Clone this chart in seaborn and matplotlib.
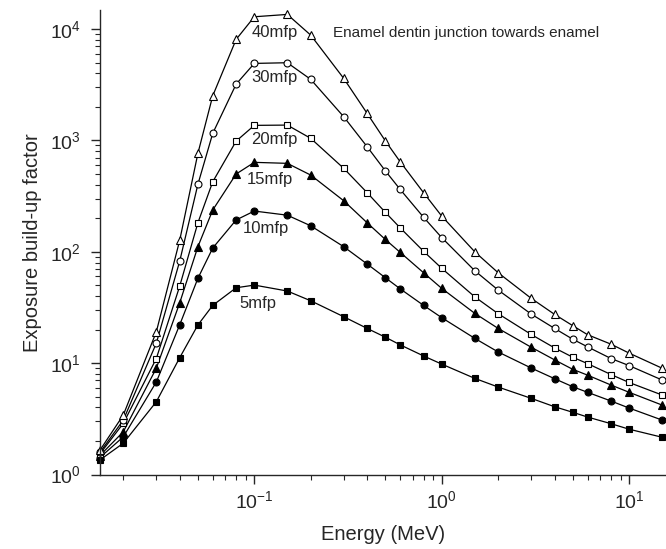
import matplotlib
matplotlib.use("Agg")
import matplotlib.pyplot as plt
import seaborn as sns
import pandas as pd

# Energy grid (MeV)
energy = [0.015, 0.02, 0.03, 0.04, 0.05, 0.06, 0.08, 0.1, 0.15, 0.2, 0.3, 0.4, 0.5,
          0.6, 0.8, 1, 1.5, 2, 3, 4, 5, 6, 8, 10, 15]

# Exposure build-up factors
eb_5mfp = [1.35, 1.91, 4.5, 11.2, 22.0, 33.0, 47.5, 50.2, 44.4, 36.3, 26.1, 20.5, 17.1,
           14.6, 11.6, 9.8, 7.3, 6.1, 4.83, 4.06, 3.62, 3.28, 2.86, 2.55, 2.16]
eb_10mfp = [1.42, 2.18, 6.77, 22.1, 57.7, 108, 193, 232, 213, 171, 111, 77.6, 58.5,
            46.5, 33.0, 25.6, 16.7, 12.6, 9.04, 7.25, 6.14, 5.47, 4.57, 3.95, 3.08]
eb_15mfp = [1.48, 2.42, 9.0, 34.8, 111, 237, 499, 635, 622, 488, 287, 182, 129,
            98.8, 64.8, 46.9, 28.0, 20.5, 13.9, 10.7, 8.8, 7.8, 6.36, 5.47, 4.2]
eb_20mfp = [1.53, 2.88, 11.0, 49.2, 182, 425, 985, 1364, 1372, 1043, 561, 339, 226,
            164, 101, 71, 39.4, 27.8, 18.1, 13.7, 11.3, 9.9, 7.9, 6.7, 5.17]
eb_30mfp = [1.58, 3.08, 15.1, 82.5, 403, 1156, 3200, 4910, 4980, 3530, 1630, 877, 533,
            363, 204, 134, 67.6, 45.3, 27.6, 20.5, 16.4, 14.0, 11.0, 9.5, 7.05]
eb_40mfp = [1.65, 3.42, 19.1, 127, 764, 2513, 8070, 12880, 13520, 8810, 3600, 1746, 991,
            643, 339, 209, 100, 64.8, 38.2, 27.4, 21.7, 18.0, 14.8, 12.3, 9.0]

series = {
    "5mfp": eb_5mfp,
    "10mfp": eb_10mfp,
    "15mfp": eb_15mfp,
    "20mfp": eb_20mfp,
    "30mfp": eb_30mfp,
    "40mfp": eb_40mfp,
}

# marker, filled?
styles = {
    "5mfp": ("s", True),
    "10mfp": ("o", True),
    "15mfp": ("^", True),
    "20mfp": ("s", False),
    "30mfp": ("o", False),
    "40mfp": ("^", False),
}

# label positions (data coords)
label_pos = {
    "40mfp": (0.0968, 9380),
    "30mfp": (0.0968, 3700),
    "20mfp": (0.0957, 1027),
    "15mfp": (0.0911, 450),
    "10mfp": (0.0867, 163),
    "5mfp": (0.0836, 34.0),
}

sns.set_style("ticks")
plt.rcParams["font.family"] = ["Liberation Sans", "DejaVu Sans"]
plt.rcParams["mathtext.default"] = "regular"

fig = plt.figure(figsize=(6.66, 5.49), dpi=100)
ax = fig.add_axes([0.150, 0.1357, 0.849, 0.846])

for name, vals in series.items():
    df = pd.DataFrame({"energy": energy, "B": vals})
    marker, filled = styles[name]
    sns.lineplot(data=df, x="energy", y="B", ax=ax, color="black", linewidth=0.9,
                 marker=marker, markersize=5 if marker != "^" else 5.5,
                 markerfacecolor="black" if filled else "white",
                 markeredgecolor="black", markeredgewidth=0.8, clip_on=False)
    lx, ly = label_pos[name]
    ax.text(lx, ly, name, fontsize=12, ha="left", va="center")

ax.text(0.262, 9190, "Enamel dentin junction towards enamel", fontsize=11,
        ha="left", va="center")

ax.set_xscale("log")
ax.set_yscale("log")
ax.set_xlim(0.015, 15.6)
ax.set_ylim(1, 14800)
ax.set_xlabel("Energy (MeV)", fontsize=14.5, labelpad=9)
ax.set_ylabel("Exposure build-up factor", fontsize=14.5, labelpad=6)
ax.tick_params(axis="both", which="major", labelsize=14, length=6.5, width=1, direction="out")
ax.tick_params(axis="x", which="major", pad=5)
ax.tick_params(axis="y", which="major", pad=7)
ax.tick_params(axis="both", which="minor", length=3.5, width=0.8, direction="out")
sns.despine(ax=ax)
for s in ["left", "bottom"]:
    ax.spines[s].set_linewidth(1)

fig.savefig("out.png", dpi=100)
